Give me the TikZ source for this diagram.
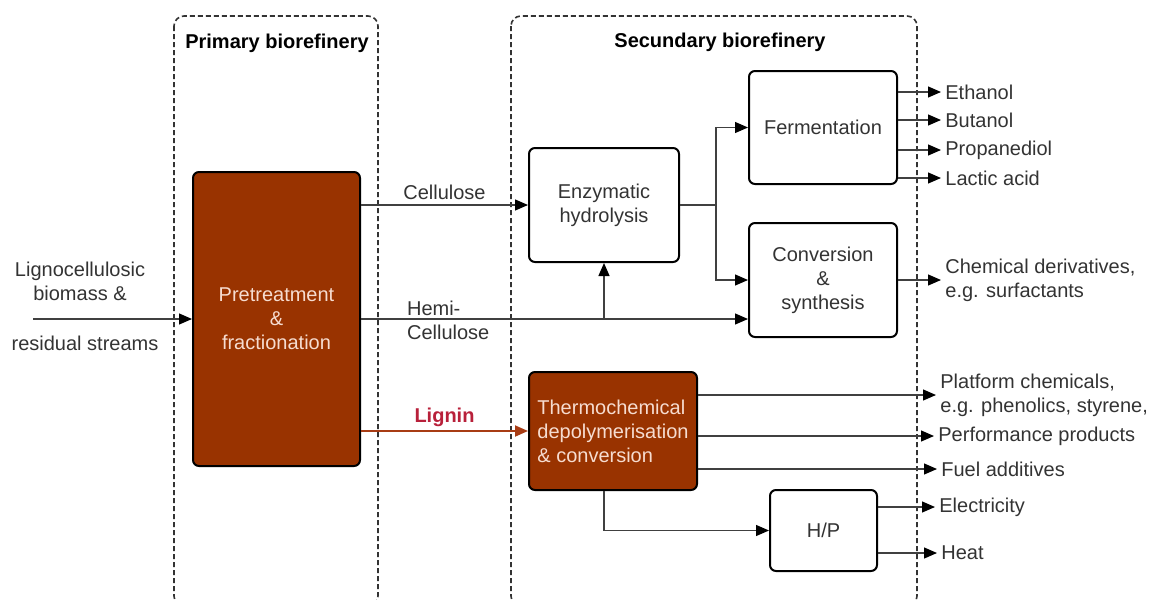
\documentclass[tikz,border=0pt]{standalone}
\usepackage{fontspec}
\setmainfont{Liberation Sans}
\usetikzlibrary{arrows.meta}
\definecolor{brick}{HTML}{993300}
\definecolor{brickline}{HTML}{A83C14}
\definecolor{lignintext}{HTML}{B8203A}
\definecolor{pale}{HTML}{F6DCD0}
\definecolor{ink}{HTML}{333333}
\begin{document}
\begin{tikzpicture}[x=0.5pt,y=-0.5pt,>={Triangle[length=6.5pt,width=5.5pt,color=black]},
    every node/.style={font=\fontsize{10}{12}\selectfont,text=ink},
    process/.style={draw=black,line width=1pt,rounded corners=3pt,align=center,inner sep=2pt},
    hotbox/.style={process,fill=brick,text=pale},
    zone/.style={draw=black!80,line width=0.8pt,dash pattern=on 2.5pt off 1.5pt,rounded corners=5pt},
    flow/.style={draw=black!75,line width=0.6pt},
    product/.style={anchor=west,align=left,inner sep=2pt}]
    \clip (0,0) rectangle (1153,600);

    % the two biorefinery zones
    \draw[zone] (174,16) rectangle (378,606);
    \draw[zone] (511,16) rectangle (917,606);
    \node[font=\fontsize{10}{12}\selectfont\bfseries,text=black] (primTitle) at (277,43) {Primary biorefinery};
    \node[font=\fontsize{10}{12}\selectfont\bfseries,text=black] (secTitle) at (720,42) {Secundary biorefinery};

    % process boxes
    \node[hotbox,minimum width=83.5pt,minimum height=147pt] (pretreat) at (276.5,319) {Pretreatment\\\&\\fractionation};
    \node[process,minimum width=75pt,minimum height=57pt] (enzyme) at (604,205) {Enzymatic\\hydrolysis};
    \node[process,minimum width=74pt,minimum height=56.5pt] (ferment) at (823,127.5) {Fermentation};
    \node[process,minimum width=74pt,minimum height=57pt] (convert) at (823,280) {Conversion\\\&\\synthesis};
    \node[hotbox,align=left,minimum width=84pt,minimum height=59pt] (thermo) at (613,431) {Thermochemical\\depolymerisation\\\& conversion};
    \node[process,minimum width=53.5pt,minimum height=40.5pt] (heatpower) at (823.5,530.5) {H/P};

    % feedstock
    \coordinate (feedIn) at (33,319);
    \node[align=center] (feedTop) at (80,281) {Lignocellulosic\\biomass \&};
    \node (feedBot) at (85,343) {residual streams};
    \draw[flow,->] (feedIn) -- (pretreat.west);

    % cellulose
    \draw[flow,->] (pretreat.east |- enzyme.west) -- (enzyme.west) node[midway,above,inner sep=2.5pt] {Cellulose};

    % hemicellulose
    \coordinate (hemiSplit) at (enzyme.south |- pretreat.east);
    \draw[flow,->] (pretreat.east) -- (pretreat.east -| convert.west);
    \draw[flow,->] (hemiSplit) -- (enzyme.south);
    \node[align=left,anchor=west] (hemiLabel) at (400,320) {Hemi-\\Cellulose};

    % lignin
    \draw[line width=0.9pt,draw=brickline,-{Triangle[length=6.5pt,width=5.5pt,color=brickline]}] (pretreat.east |- thermo.west) -- (thermo.west)
        node[midway,above,inner sep=1.5pt,text=lignintext,font=\fontsize{10}{12}\selectfont\bfseries] {Lignin};

    % sugars to fermentation and synthesis
    \coordinate (enzSplit) at ([xshift=18pt]enzyme.east);
    \draw[flow] (enzyme.east) -- (enzSplit);
    \draw[flow,->] (enzSplit) |- (ferment.west);
    \draw[flow,->] (enzSplit) |- (convert.west);

    % fermentation products
    \node[product] (ethanol) at (941,92) {Ethanol};
    \node[product] (butanol) at (941,120) {Butanol};
    \node[product] (propanediol) at (941,150) {Propanediol};
    \node[product] (lactic) at (941,178) {Lactic acid};
    \draw[flow,->] (ferment.east |- ethanol.west) -- (ethanol.west);
    \draw[flow,->] (ferment.east |- butanol.west) -- (butanol.west);
    \draw[flow,->] (ferment.east |- propanediol.west) -- (propanediol.west);
    \draw[flow,->] (ferment.east |- lactic.west) -- (lactic.west);

    % chemical derivatives
    \node[product] (chemDeriv) at (941,280) {Chemical derivatives,\\e.g. surfactants};
    \draw[flow,->] (convert.east) -- (chemDeriv.west);

    % lignin products
    \node[product] (platform) at (936,395) {Platform chemicals,\\e.g. phenolics, styrene,};
    \node[product] (perform) at (934,436) {Performance products};
    \node[product] (fuel) at (937,469) {Fuel additives};
    \draw[flow,->] (thermo.east |- platform.west) -- (platform.west);
    \draw[flow,->] (thermo.east |- perform.west) -- (perform.west);
    \draw[flow,->] (thermo.east |- fuel.west) -- (fuel.west);

    % heat and power
    \coordinate (thermoDown) at (thermo.south -| enzyme.south);
    \draw[flow,->] (thermoDown) |- (heatpower.west);
    \node[product] (electric) at (935,507) {Electricity};
    \node[product] (heat) at (937,553) {Heat};
    \draw[flow,->] (heatpower.east |- electric.west) -- (electric.west);
    \draw[flow,->] (heatpower.east |- heat.west) -- (heat.west);
\end{tikzpicture}
\end{document}
